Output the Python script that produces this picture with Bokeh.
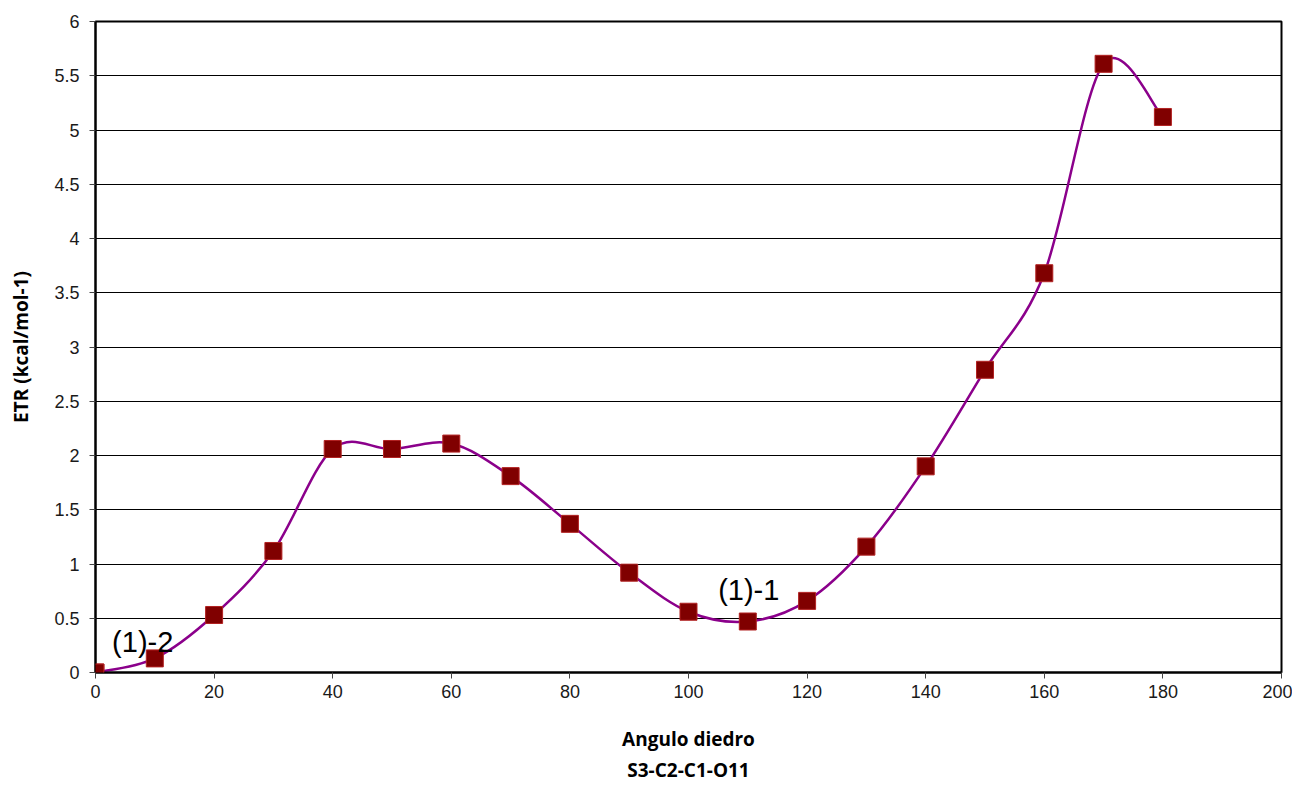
import numpy as np
from bokeh.plotting import figure
from bokeh.models import FixedTicker, NumeralTickFormatter, Label, ColumnDataSource
from bokeh.embed import file_html
from bokeh.resources import INLINE

# Data
angle = [0, 10, 20, 30, 40, 50, 60, 70, 80, 90, 100, 110, 120, 130, 140, 150, 160, 170, 180]
etr = [0.0, 0.13, 0.53, 1.12, 2.06, 2.06, 2.11, 1.81, 1.37, 0.92, 0.56, 0.47, 0.66, 1.16, 1.90, 2.79, 3.68, 5.61, 5.12]
x_ticks = [0, 20, 40, 60, 80, 100, 120, 140, 160, 180, 200]
y_ticks = [0, 0.5, 1, 1.5, 2, 2.5, 3, 3.5, 4, 4.5, 5, 5.5, 6]
ann_text = ["(1)-2", "(1)-1"]
ann_x = [2.8, 105.0]
ann_y = [0.28, 0.76]

p = figure(width=1292, height=786, x_range=(0, 200), y_range=(0, 6),
           output_backend="svg", toolbar_location=None,
           min_border_left=95, min_border_right=11, min_border_top=21, min_border_bottom=114)

p.outline_line_color = "black"
p.outline_line_width = 2
p.background_fill_color = "white"
p.border_fill_color = "white"

p.xgrid.grid_line_color = None
p.ygrid.grid_line_color = "black"
p.ygrid.grid_line_width = 1
p.ygrid.ticker = FixedTicker(ticks=y_ticks)
p.xaxis.ticker = FixedTicker(ticks=x_ticks)
p.yaxis.ticker = FixedTicker(ticks=y_ticks)
p.yaxis.formatter = NumeralTickFormatter(format="0.[0]")

for ax in (p.xaxis, p.yaxis):
    ax.axis_line_color = "black"
    ax.axis_line_width = 2
    ax.major_tick_line_color = "#444444"
    ax.major_tick_in = 0
    ax.major_tick_out = 6
    ax.minor_tick_line_color = None
    ax.major_label_text_font = "Liberation Sans"
    ax.major_label_text_font_size = "18px"
    ax.major_label_text_color = "#1a1a1a"
    ax.axis_label_text_font = "Open Sans"
    ax.axis_label_text_font_style = "bold"
    ax.axis_label_text_font_size = "19px"
    ax.axis_label_text_color = "black"

p.xaxis.major_label_standoff = 6
p.yaxis.major_label_standoff = 10
p.xaxis.axis_label = "Angulo diedro\nS3-C2-C1-O11"
p.xaxis.axis_label_standoff = 25
p.yaxis.axis_label = "ETR (kcal/mol-1)"
p.yaxis.axis_label_standoff = 17

# Smoothed line (Catmull-Rom style Bezier segments through the data points)
xs = np.array(angle, dtype=float)
ys = np.array(etr, dtype=float)
n = len(xs)
xp = np.concatenate([[xs[0]], xs, [xs[-1]]])
yp = np.concatenate([[ys[0]], ys, [ys[-1]]])
x0 = xs[:-1]; y0 = ys[:-1]; x1 = xs[1:]; y1 = ys[1:]
cx0 = x0 + (xp[2:n+1] - xp[0:n-1]) / 6.0
cy0 = y0 + (yp[2:n+1] - yp[0:n-1]) / 6.0
cx1 = x1 - (xp[3:n+2] - xp[1:n]) / 6.0
cy1 = y1 - (yp[3:n+2] - yp[1:n]) / 6.0
p.bezier(x0=x0, y0=y0, x1=x1, y1=y1, cx0=cx0, cy0=cy0, cx1=cx1, cy1=cy1,
         line_color="#8B008B", line_width=2.5)

src = ColumnDataSource(dict(x=angle, y=etr))
p.scatter("x", "y", source=src, marker="square", size=17,
          fill_color="#800000", line_color="#b22222", line_width=1)

# unclipped marker for the point lying on the frame corner
p.add_layout(Label(x=angle[0], y=etr[0], text=".", text_font_size="2px",
                   text_color="#800000",
                   anchor="center", text_align="center", text_baseline="middle",
                   padding=8, background_fill_color="#800000",
                   border_line_color="#b22222", border_line_width=1))

for t, ax_, ay_ in zip(ann_text, ann_x, ann_y):
    p.add_layout(Label(x=ax_, y=ay_, text=t, text_font="Liberation Sans",
                       text_font_size="29px", text_color="black",
                       text_align="left", text_baseline="middle"))

open("out.html", "w").write(file_html(p, INLINE))
